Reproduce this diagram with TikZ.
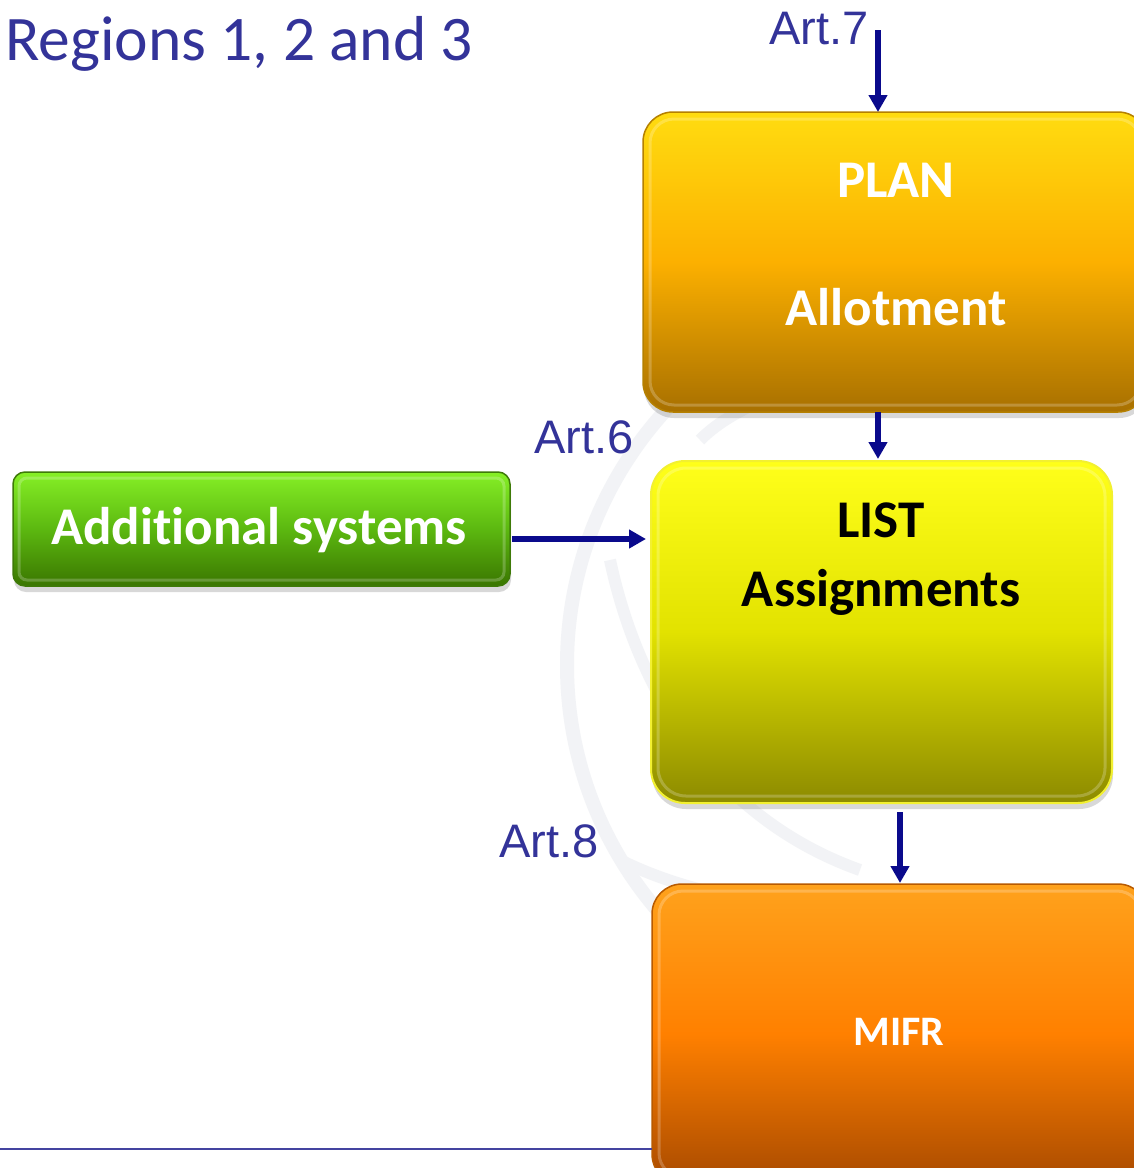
\documentclass[tikz,border=0pt]{standalone}
\usepackage{fontspec}
\setmainfont{Carlito}[Ligatures={NoCommon,NoDiscretionary}]
\newfontfamily\arialf{Liberation Sans}
\usetikzlibrary{arrows.meta,shadows,calc}
\definecolor{navy}{HTML}{0A0A8C}
\definecolor{titleblue}{HTML}{333399}
\definecolor{wm}{HTML}{F2F3F6}
\definecolor{planT}{HTML}{FFDC10}
\definecolor{planM}{HTML}{FCB000}
\definecolor{planB}{HTML}{A87000}
\definecolor{planD}{HTML}{B58000}
\definecolor{listT}{HTML}{FFFF1A}
\definecolor{listM}{HTML}{E2E200}
\definecolor{listB}{HTML}{8C8A00}
\definecolor{listD}{HTML}{F2F030}
\definecolor{mifrT}{HTML}{FFA21C}
\definecolor{mifrM}{HTML}{FF8000}
\definecolor{mifrB}{HTML}{A84A00}
\definecolor{mifrD}{HTML}{B85A00}
\definecolor{addT}{HTML}{86F026}
\definecolor{addM}{HTML}{5CB810}
\definecolor{addB}{HTML}{3A7600}
\definecolor{addD}{HTML}{3E7A08}
\definecolor{rule}{HTML}{4444A0}
\begin{document}
\begin{tikzpicture}[x=1pt,y=-1pt,
  box/.style={rounded corners=30pt, inner sep=0pt, outer sep=0pt, anchor=north west, line width=1.5pt,
    drop shadow={shadow xshift=1pt,shadow yshift=-6pt,opacity=0.3,fill=black!50}},
  gloss/.style={draw=white, opacity=0.22, line width=3pt},
  arr/.style={draw=navy, line width=5.5pt, -{Triangle[length=17pt,width=18pt]}},
  lbl/.style={font=\arialf\fontsize{47}{50}\selectfont, text=titleblue, anchor=base, inner sep=0pt},
  btxt/.style={font=\bfseries\fontsize{53}{56}\selectfont, anchor=base, inner sep=0pt}]
\useasboundingbox (0,0) rectangle (1134,1168);
\fill[white] (0,0) rectangle (1134,1168);
% watermark
\draw[wm, line width=14pt] (945,665) circle (378pt);
\draw[wm, line width=12pt] (700,440) .. controls (760,380) and (900,360) .. (1000,380);
\draw[wm, line width=12pt] (610,560) .. controls (640,700) and (720,820) .. (860,870);
\draw[wm, line width=12pt] (620,860) .. controls (700,900) and (820,920) .. (950,900);
% title
\node[font=\fontsize{63.5}{66}\selectfont, text=titleblue, anchor=base west, inner sep=0pt] (title) at (5,60) {Regions 1, 2 and 3};
% boxes
\node[box, minimum width=505pt, minimum height=300pt, draw=planD,
  top color=planT, bottom color=planB, middle color=planM] (plan) at (643,112) {};
\draw[gloss, rounded corners=24pt] ([shift={(7pt,-7pt)}]plan.north west) rectangle ([shift={(-7pt,7pt)}]plan.south east);
\node[box, rounded corners=34pt, minimum width=461pt, minimum height=342pt, draw=listD, line width=2pt,
  top color=listT, bottom color=listB, middle color=listM] (list) at (651,461) {};
\draw[gloss, rounded corners=28pt] ([shift={(7pt,-7pt)}]list.north west) rectangle ([shift={(-7pt,7pt)}]list.south east);
\node[box, minimum width=496pt, minimum height=300pt, draw=mifrD,
  top color=mifrT, bottom color=mifrB, middle color=mifrM] (mifr) at (652,884) {};
\draw[gloss, rounded corners=24pt] ([shift={(7pt,-7pt)}]mifr.north west) rectangle ([shift={(-7pt,7pt)}]mifr.south east);
\node[box, rounded corners=12pt, minimum width=497pt, minimum height=114pt, draw=addD,
  top color=addT, bottom color=addB, middle color=addM] (add) at (13,472) {};
\draw[gloss, rounded corners=8pt] ([shift={(6pt,-6pt)}]add.north west) rectangle ([shift={(-6pt,6pt)}]add.south east);
% box texts
\node[btxt, text=white] (plantxt) at (896,197) {PLAN};
\node[btxt, text=white] (allottxt) at (896,325) {Allotment};
\node[btxt, text=black] (listtxt) at (881,537) {LIST};
\node[btxt, text=black] (assigntxt) at (881,606) {Assignments};
\node[btxt, text=white] (addtxt) at (259,544) {Additional systems};
\node[font=\bfseries\fontsize{42}{44}\selectfont, text=white, anchor=base, inner sep=0pt] (mifrtxt) at (899,1045) {MIFR};
% article labels
\node[lbl] (art7) at (819,44) {Art.7};
\node[lbl] (art6) at (584,453) {Art.6};
\node[lbl] (art8) at (549,857) {Art.8};
% connectors
\coordinate (a7) at (878,30);
\coordinate (ay) at (0,539);
\coordinate (lm) at (900,812);
\draw[arr] (a7) -- (a7 |- plan.north);
\draw[arr] (a7 |- plan.south) -- ([yshift=2pt]a7 |- list.north);
\draw[arr] ([xshift=2pt]add.east |- ay) -- ([xshift=-5pt]list.west |- ay);
\draw[arr] (lm) -- ([yshift=1pt]lm |- mifr.north);
% bottom rule
\coordinate (r0) at (0,1149);
\draw[rule, line width=2.5pt] (r0) -- (r0 -| mifr.west);
\end{tikzpicture}
\end{document}
